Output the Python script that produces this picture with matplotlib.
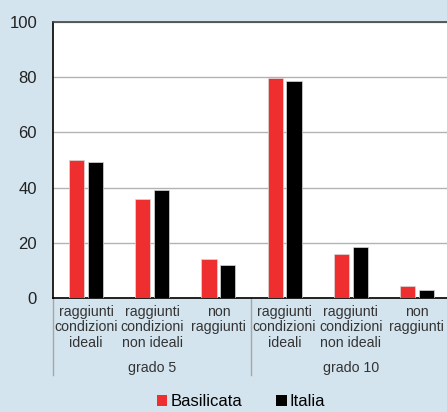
import matplotlib
matplotlib.use("Agg")
import matplotlib.pyplot as plt
from matplotlib.patches import Patch
import numpy as np

plt.rcParams['font.family'] = ['Liberation Sans', 'DejaVu Sans']

categories = ["raggiunti\ncondizioni\nideali", "raggiunti\ncondizioni\nnon ideali", "non\nraggiunti",
              "raggiunti\ncondizioni\nideali", "raggiunti\ncondizioni\nnon ideali", "non\nraggiunti"]
groups = ["grado 5", "grado 10"]
basilicata = [50.0, 36.0, 14.0, 79.7, 15.8, 4.5]
italia = [49.2, 39.0, 11.8, 78.6, 18.4, 2.9]
yticks = [0, 20, 40, 60, 80, 100]

W, H = 447, 412
bg = "#D3E4EE"
red = "#EE2E2F"

fig = plt.figure(figsize=(W / 100, H / 100), dpi=100, facecolor=bg)
left, right, top, bottom = 53, 450, 22, 298
ax = fig.add_axes([left / W, (H - bottom) / H, (right - left) / W, (bottom - top) / H])
ax.set_facecolor("white")

x = np.arange(len(categories))
w = 0.23
off = 0.143
ax.bar(x - off, basilicata, width=w, color=red, edgecolor="#D9D9D9", linewidth=0.5, zorder=3)
ax.bar(x + off, italia, width=w, color="black", edgecolor="#D9D9D9", linewidth=0.5, zorder=3)

ax.set_xlim(-0.5, len(categories) - 0.5)
ax.set_ylim(0, 100)
ax.set_yticks(yticks)
ax.set_yticklabels([str(v) for v in yticks], fontsize=12, color="#222222")
ax.tick_params(axis="y", length=0, pad=11.5)
ax.yaxis.grid(True, color="#B3B3B3", linewidth=1.0, zorder=0)
ax.set_axisbelow(True)

ax.set_xticks(x)
ax.set_xticklabels(categories, fontsize=10.2, color="#333333", linespacing=1.12)
ax.tick_params(axis="x", length=0, pad=5)

for s in ["left", "bottom", "top"]:
    ax.spines[s].set_color("black")
    ax.spines[s].set_linewidth(1.2)
ax.spines["top"].set_color("#444444")
ax.spines["right"].set_visible(False)

# group separators below the axis and group labels
trans = ax.get_xaxis_transform()
sep_depth = (375 - bottom) / (bottom - top)
for xs in [-0.5, 2.5]:
    ax.plot([xs, xs], [0, -sep_depth], transform=trans, color="#A6A6A6",
            linewidth=1.0, clip_on=False)
for i, g in enumerate(groups):
    ax.text(1 + 3 * i, -(368 - bottom) / (bottom - top), g, transform=trans,
            ha="center", va="center", fontsize=10.2, color="#333333")

handles = [Patch(facecolor=red, edgecolor="none", label="Basilicata"),
           Patch(facecolor="black", edgecolor="none", label="Italia")]
fig.legend(handles=handles, loc="center", bbox_to_anchor=(241 / W, 1 - 402 / H),
           ncol=2, frameon=False, fontsize=12, handlelength=0.65, handleheight=0.65,
           handletextpad=0.2, columnspacing=2.0, borderaxespad=0)

fig.savefig("out.png", dpi=100, facecolor=bg)
